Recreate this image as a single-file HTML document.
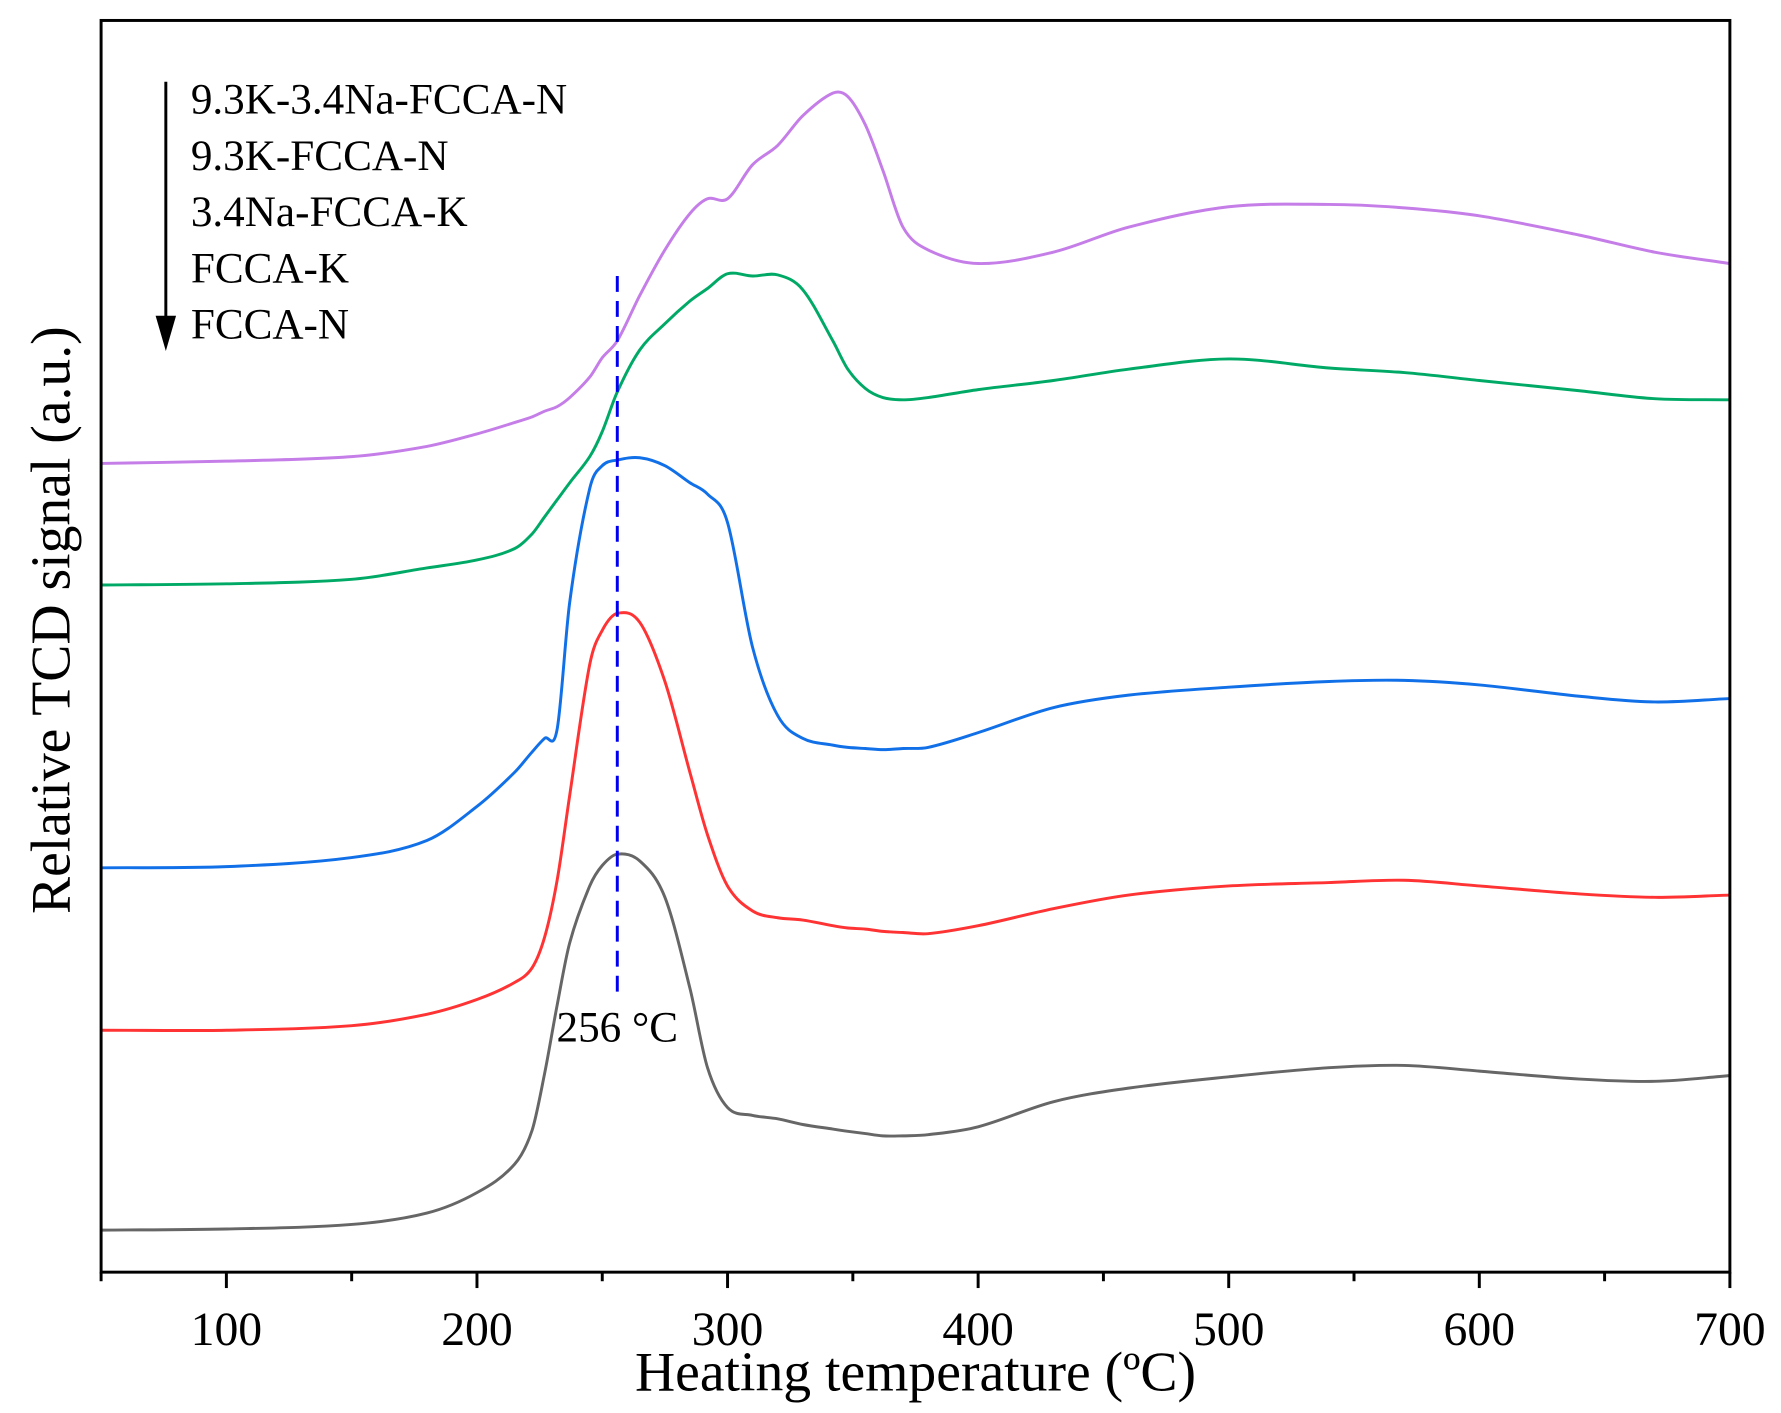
<!DOCTYPE html>
<html><head><meta charset="utf-8"><style>
html,body{margin:0;padding:0;background:#fff;}
svg{display:block;font-family:"Liberation Serif",serif;}
</style></head><body>
<svg id="chart" width="1781" height="1413" viewBox="0 0 1568 1244" xmlns="http://www.w3.org/2000/svg">
<rect x="0" y="0" width="1568" height="1244" fill="#fff"/>
<g id="series"></g>
<g id="axes"></g>
</svg>
<script>
const xTicks=[100,200,300,400,500,600,700];
const xMinor=[50,150,250,350,450,550,650];
const temps=[50,100,150,180,200,215,222,227,232,237,245,250,256,265,275,285,292,300,310,320,330,342,348,355,362,370,380,400,430,460,500,540,570,600,640,670,700];
const gray=[37,38,42,52,70,95,125,175,235,290,340,358,368,362,330,250,180,145,138,135,130,126,124,122,120,120,121,128,150,162,172,180,182,177,170,168,173];
const red=[213,213,217,227,240,255,268,295,345,420,535,565,580,572,520,440,385,340,318,312,310,305,303,302,300,299,298,305,320,332,340,343,345,340,333,330,332];
const blue=[356,357,365,380,410,440,458,470,478,590,690,710,715,717,710,695,685,660,550,490,470,464,462,461,460,461,462,475,497,508,515,520,521,517,507,502,505];
const green=[605,606,610,620,627,637,650,665,680,695,718,740,775,812,835,855,866,879,877,878,865,820,795,778,770,768,770,777,785,795,804,796,792,785,776,769,768];
const purple=[712,714,718,727,738,748,753,758,762,770,788,805,820,860,900,932,945,945,975,992,1018,1038,1035,1010,970,920,900,888,898,920,938,940,937,930,913,898,888];
const seriesNames=["FCCA-N","FCCA-K","3.4Na-FCCA-K","9.3K-FCCA-N","9.3K-3.4Na-FCCA-N"];
const seriesVals=[gray,red,blue,green,purple];
const seriesColors=["#666666","#ff3333","#1170e8","#00aa66","#c57de8"];
const peakT=256;
const X0=89,X1=1523,Y0=1120,Y1=18;
function sx(t){return X0+(t-50)/(700-50)*(X1-X0);}
function sy(v){return Y0-v;}
const NS="http://www.w3.org/2000/svg";
function mk(tag,attrs,parent,text){const e=document.createElementNS(NS,tag);for(const k in attrs)e.setAttribute(k,attrs[k]);if(text!==undefined)e.textContent=text;parent.appendChild(e);return e;}
function smooth(pts){let d="M"+pts[0][0]+","+pts[0][1];for(let i=0;i<pts.length-1;i++){const p0=pts[Math.max(0,i-1)],p1=pts[i],p2=pts[i+1],p3=pts[Math.min(pts.length-1,i+2)];const h=p2[0]-p1[0];const m1=(p2[1]-p0[1])/(p2[0]-p0[0]||1),m2=(p3[1]-p1[1])/(p3[0]-p1[0]||1);const c1=[p1[0]+h/3,p1[1]+m1*h/3],c2=[p2[0]-h/3,p2[1]-m2*h/3];d+=" C"+c1[0].toFixed(1)+","+c1[1].toFixed(1)+" "+c2[0].toFixed(1)+","+c2[1].toFixed(1)+" "+p2[0].toFixed(1)+","+p2[1].toFixed(1);}return d;}
const sg=document.getElementById('series');
seriesVals.forEach((vals,i)=>{
  const pts=temps.map((t,j)=>[sx(t),sy(vals[j])]);
  const p=mk('path',{d:smooth(pts),fill:'none',stroke:seriesColors[i],'stroke-width':2.6,'stroke-linejoin':'round'},sg);
  
  
});
const ax=document.getElementById('axes');
const dl=mk('line',{x1:sx(peakT),x2:sx(peakT),y1:243,y2:873,stroke:'#0000ee','stroke-width':2.6,'stroke-dasharray':'14,8'},ax);


const pl=mk('text',{x:sx(peakT),y:917,'font-size':38,'text-anchor':'middle'},ax,peakT+" °C");


const fr=mk('rect',{x:X0,y:Y1,width:X1-X0,height:Y0-Y1,fill:'none',stroke:'#000','stroke-width':2.6},ax);


xTicks.forEach(t=>{
  const l=mk('line',{x1:sx(t),x2:sx(t),y1:Y0,y2:Y0+14,stroke:'#000','stroke-width':2.6},ax);
  
  
  const tx=mk('text',{x:sx(t),y:1184,'font-size':42,'text-anchor':'middle'},ax,String(t));
  
  
});
xMinor.forEach(t=>{
  const l=mk('line',{x1:sx(t),x2:sx(t),y1:Y0,y2:Y0+8,stroke:'#000','stroke-width':2.6},ax);
  
  
});
const xt=mk('text',{x:806,y:1224,'font-size':49,'text-anchor':'middle'},ax,"Heating temperature (ºC)");


const yt=mk('text',{x:0,y:0,'font-size':49,'text-anchor':'middle',transform:'translate(61,546) rotate(-90)'},ax,"Relative TCD signal (a.u.)");


const ar=mk('line',{x1:146,x2:146,y1:72,y2:290,stroke:'#000','stroke-width':2.6},ax);


const ah=mk('path',{d:'M137,278 L146,309 L155,278 Z',fill:'#000'},ax);


const legendOrder=[4,3,2,1,0];
legendOrder.forEach((si,k)=>{
  const t=mk('text',{x:168,y:100+k*49.5,'font-size':38},ax,seriesNames[si]);
  
  
});
</script>
</body></html>
